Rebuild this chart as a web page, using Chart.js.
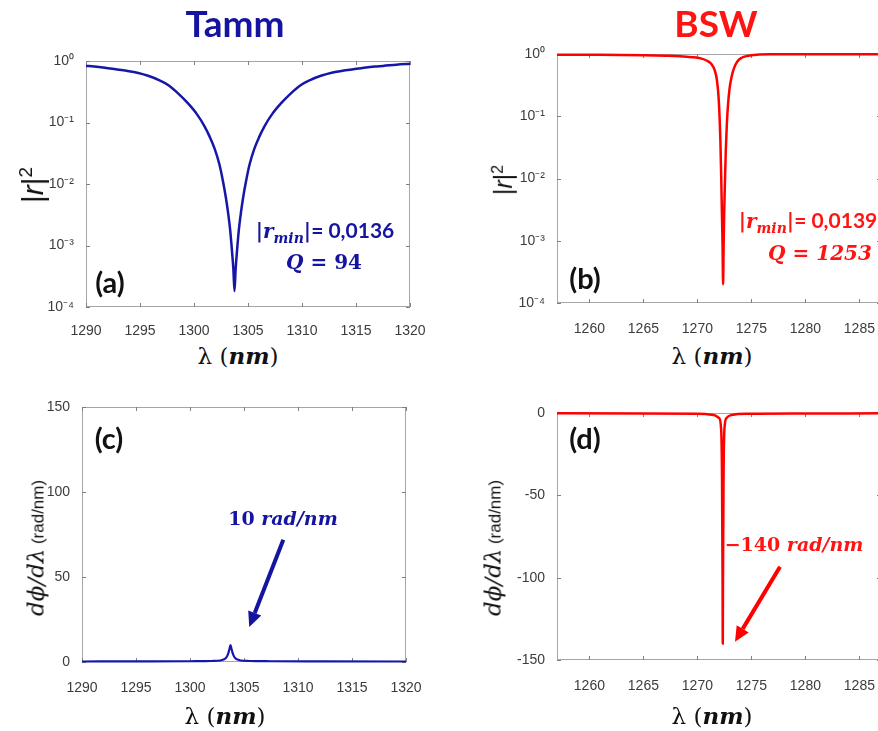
<!DOCTYPE html>
<html>
<head>
<meta charset="utf-8">
<script src="https://cdn.jsdelivr.net/npm/chart.js@4.4.1/dist/chart.umd.min.js"></script>
<style>
  html, body { margin: 0; padding: 0; background: #fff; }
  body { width: 878px; height: 731px; overflow: hidden; position: relative; font-family: "Liberation Sans", Arial, sans-serif; }
  .panel { position: absolute; }
  .txt { position: absolute; white-space: nowrap; transform: translate(-50%, -50%); line-height: 1; }
  .rot { transform: translate(-50%, -50%) rotate(-90deg); }
  .title { font-family: Lato, "Open Sans", sans-serif; font-weight: 700; font-size: 37px; }
  .tag { font-family: Lato, "Open Sans", sans-serif; font-weight: 700; font-size: 29px; color: #111; }
  .mi { font-family: "DejaVu Serif", serif; font-style: italic; font-weight: 700; }
  .ms { font-family: "DejaVu Serif", serif; font-weight: 700; }
  .cb { font-family: Lato, "Open Sans", sans-serif; font-weight: 700; }
  .xl { font-size: 23px; color: #111; font-family: "DejaVu Serif", serif; }
  .blue { color: #1414a0; }
  .red { color: #ff1414; }
</style>
</head>
<body>

<div class="panel" style="left:0;top:40px"><canvas id="pa" width="440" height="300"></canvas></div>
<div class="panel" style="left:440px;top:40px"><canvas id="pb" width="460" height="300"></canvas></div>
<div class="panel" style="left:0;top:390px"><canvas id="pc" width="440" height="341"></canvas></div>
<div class="panel" style="left:440px;top:390px"><canvas id="pd" width="460" height="341"></canvas></div>

<div class="txt title blue" style="left:235px;top:22px">Tamm</div>
<div class="txt title red" style="left:716px;top:22px">BSW</div>

<!-- y titles -->
<div class="txt rot" style="left:32px;top:185px;font-size:30px;color:#111">|<i>r</i>|<sup style="font-size:19px">2</sup></div>
<div class="txt rot" style="left:503px;top:180px;font-size:25px;color:#111">|<i>r</i>|<sup style="font-size:16px">2</sup></div>
<div class="txt rot" style="left:36px;top:548px;color:#111"><span style="font-family:'DejaVu Serif',serif;font-style:italic;font-size:23px">dϕ/dλ</span> <span style="font-size:17px">(rad/nm)</span></div>
<div class="txt rot" style="left:493px;top:548px;color:#111"><span style="font-family:'DejaVu Serif',serif;font-style:italic;font-size:23px">dϕ/dλ</span> <span style="font-size:17px">(rad/nm)</span></div>

<!-- x titles -->
<div class="txt xl" style="left:238px;top:356px">λ (<span class="mi">nm</span>)</div>
<div class="txt xl" style="left:712px;top:356px">λ (<span class="mi">nm</span>)</div>
<div class="txt xl" style="left:225px;top:716px">λ (<span class="mi">nm</span>)</div>
<div class="txt xl" style="left:712px;top:716px">λ (<span class="mi">nm</span>)</div>

<!-- panel tags -->
<div class="txt tag" style="left:110px;top:281px">(a)</div>
<div class="txt tag" style="left:585px;top:277px">(b)</div>
<div class="txt tag" style="left:109px;top:437px">(c)</div>
<div class="txt tag" style="left:585px;top:437px">(d)</div>

<!-- annotations -->
<div class="txt blue" style="left:325px;top:232px;font-size:20px"><span class="mi">|r<sub style="font-size:14px">min</sub>|</span><span class="cb" style="font-size:21px">= 0,0136</span></div>
<div class="txt blue ms" style="left:324px;top:262px;font-size:20px"><span class="mi">Q</span> = 94</div>
<div class="txt red" style="left:808px;top:222px;font-size:20px"><span class="mi">|r<sub style="font-size:14px">min</sub>|</span><span class="cb" style="font-size:21px">= 0,0139</span></div>
<div class="txt red ms" style="left:820px;top:253px;font-size:20px"><span class="mi">Q</span> = <span class="mi">1253</span></div>
<div class="txt blue ms" style="left:283px;top:518px;font-size:19px">10 <span class="mi">rad/nm</span></div>
<div class="txt red ms" style="left:794px;top:544px;font-size:19px">−140 <span class="mi">rad/nm</span></div>

<script>
// ---- data ----
const tammLambda = [1290, 1290.75, 1291.75, 1292.75, 1293.75, 1294.75, 1295.75, 1296.75, 1297.6, 1298.55,
  1299.45, 1300.25, 1301, 1301.45, 1301.9, 1302.35, 1302.7, 1302.95, 1303.15, 1303.35, 1303.5, 1303.65, 1303.75,
  1303.85, 1304.0, 1304.15, 1304.35, 1304.55, 1304.8, 1305.15, 1305.6, 1306.05, 1306.5, 1307.25, 1308.05,
  1308.95, 1309.9, 1310.75, 1311.75, 1312.75, 1313.75, 1314.75, 1315.75, 1316.75, 1317.5, 1318.75, 1320];
const tammR2 = [0.832, 0.813, 0.776, 0.733, 0.692, 0.646, 0.575, 0.490, 0.407, 0.295,
  0.204, 0.138, 0.0851, 0.0589, 0.0380, 0.0209, 0.0107, 0.00603, 0.00347, 0.00178, 0.00089, 0.000398, 0.000182,
  0.000398, 0.00089, 0.00178, 0.00347, 0.00603, 0.0107, 0.0209, 0.0380, 0.0589, 0.0851, 0.138, 0.204,
  0.295, 0.407, 0.490, 0.575, 0.646, 0.692, 0.733, 0.776, 0.813, 0.832, 0.871, 0.902];

const bswLambda = [1257, 1260, 1263, 1265, 1267, 1268.4, 1269.5, 1270.3, 1270.9, 1271.3, 1271.6, 1271.8,
  1271.95, 1272.05, 1272.13, 1272.2, 1272.27, 1272.33, 1272.38, 1272.43, 1272.48, 1272.56, 1272.63, 1272.72,
  1272.83, 1272.98, 1273.18, 1273.4, 1273.7, 1274.1, 1274.6, 1275.5, 1277, 1280, 1284, 1287];
const bswR2 = [0.977, 0.972, 0.966, 0.955, 0.94, 0.923, 0.89, 0.85, 0.78, 0.69, 0.55, 0.39,
  0.214, 0.10, 0.0398, 0.0117, 0.0028, 0.00085, 0.0002, 0.00089, 0.0028, 0.010, 0.028, 0.071,
  0.15, 0.28, 0.44, 0.60, 0.76, 0.87, 0.93, 0.977, 0.99, 0.995, 0.995, 0.995];

const tammGdLambda = [1290, 1295, 1300, 1302, 1302.8, 1303.1, 1303.3, 1303.45, 1303.55, 1303.65, 1303.75,
  1303.85, 1303.95, 1304.05, 1304.2, 1304.4, 1304.7, 1305.5, 1307.5, 1312, 1320];
const tammGd = [0.3, 0.35, 0.45, 0.6, 0.9, 1.4, 2.2, 3.6, 5.2, 7.5, 10,
  7.5, 5.2, 3.6, 2.2, 1.4, 0.9, 0.6, 0.45, 0.35, 0.3];

const bswGdLambda = [1257, 1265, 1270, 1271.5, 1272.0, 1272.2, 1272.28, 1272.33, 1272.35, 1272.37,
  1272.42, 1272.5, 1272.7, 1273.2, 1274.7, 1280, 1287];
const bswGd = [-0.2, -0.3, -0.5, -1.2, -3, -10, -40, -100, -140, -100, -40, -10, -3, -1.2, -0.5, -0.3, -0.2];

const tammTicks = [1290, 1295, 1300, 1305, 1310, 1315, 1320];
const bswTicks = [1260, 1265, 1270, 1275, 1280, 1285];
const r2Ticks = [1e-4, 1e-3, 1e-2, 1e-1, 1];
const tammGdTicks = [0, 50, 100, 150];
const bswGdTicks = [-150, -100, -50, 0];

const BLUE = '#1616a8';
const RED = '#ff0000';

const sup = { '-': '⁻', '0': '⁰', '1': '¹', '2': '²', '3': '³', '4': '⁴' };
const powLabel = v => '10' + String(Math.round(Math.log10(v))).split('').map(c => sup[c]).join('');

// box with inward ticks, matlab style
const boxPlugin = {
  id: 'box',
  beforeDatasetsDraw(chart) {
    const { ctx, chartArea: a, scales } = chart;
    ctx.save();
    ctx.strokeStyle = '#a6a6a6';
    ctx.lineWidth = 1;
    ctx.strokeRect(a.left + 0.5, a.top + 0.5, a.right - a.left - 1, a.bottom - a.top - 1);
    ctx.strokeStyle = '#808080';
    ctx.beginPath();
    scales.x.ticks.forEach(t => {
      const p = Math.round(scales.x.getPixelForValue(t.value)) + 0.5;
      ctx.moveTo(p, a.bottom); ctx.lineTo(p, a.bottom - 4);
      ctx.moveTo(p, a.top); ctx.lineTo(p, a.top + 4);
    });
    scales.y.ticks.forEach(t => {
      const p = Math.round(scales.y.getPixelForValue(t.value)) + 0.5;
      ctx.moveTo(a.left, p); ctx.lineTo(a.left + 4, p);
      ctx.moveTo(a.right, p); ctx.lineTo(a.right - 4, p);
    });
    ctx.stroke();
    ctx.restore();
  }
};

const arrowPlugin = {
  id: 'arrow',
  afterDatasetsDraw(chart, args, opts) {
    if (!opts || !opts.from) return;
    const { ctx, scales } = chart;
    const x0 = scales.x.getPixelForValue(opts.from[0]), y0 = scales.y.getPixelForValue(opts.from[1]);
    const x1 = scales.x.getPixelForValue(opts.to[0]), y1 = scales.y.getPixelForValue(opts.to[1]);
    const ang = Math.atan2(y1 - y0, x1 - x0);
    const hl = 15, hw = 7;
    const bx = x1 - hl * Math.cos(ang), by = y1 - hl * Math.sin(ang);
    ctx.save();
    ctx.strokeStyle = opts.color;
    ctx.fillStyle = opts.color;
    ctx.lineWidth = 4;
    ctx.beginPath(); ctx.moveTo(x0, y0); ctx.lineTo(bx, by); ctx.stroke();
    ctx.beginPath();
    ctx.moveTo(x1, y1);
    ctx.lineTo(bx + hw * Math.sin(ang), by - hw * Math.cos(ang));
    ctx.lineTo(bx - hw * Math.sin(ang), by + hw * Math.cos(ang));
    ctx.closePath(); ctx.fill();
    ctx.restore();
  }
};

function makeChart(id, cfg) {
  const tickFont = { family: '"Liberation Sans", Arial, sans-serif', size: 14 };
  return new Chart(document.getElementById(id), {
    type: 'line',
    data: {
      datasets: [{
        data: cfg.xs.map((x, i) => ({ x: x, y: cfg.ys[i] })),
        borderColor: cfg.color,
        borderWidth: cfg.lw,
        pointRadius: 0,
        fill: false,
        cubicInterpolationMode: 'monotone',
        clip: 6
      }]
    },
    options: {
      responsive: false,
      devicePixelRatio: 1,
      animation: false,
      events: [],
      layout: { autoPadding: false, padding: { left: 0, top: cfg.padTop, right: cfg.padRight, bottom: 0 } },
      plugins: { legend: { display: false }, tooltip: { enabled: false }, arrow: cfg.arrow || {} },
      scales: {
        x: {
          type: 'linear', min: cfg.xmin, max: cfg.xmax,
          grid: { display: false }, border: { display: false },
          afterBuildTicks: s => { s.ticks = cfg.xticks.map(v => ({ value: v })); },
          afterFit: s => { s.height = cfg.xh; },
          ticks: { color: '#3c3c3c', font: tickFont, padding: cfg.xpad, maxRotation: 0, autoSkip: false,
                   callback: v => String(v) }
        },
        y: {
          type: cfg.log ? 'logarithmic' : 'linear', min: cfg.ymin, max: cfg.ymax,
          grid: { display: false }, border: { display: false },
          afterBuildTicks: s => { s.ticks = cfg.yticks.map(v => ({ value: v })); },
          afterFit: s => { s.width = cfg.yw; },
          ticks: { color: '#3c3c3c', font: tickFont, padding: 4, autoSkip: false,
                   callback: cfg.log ? powLabel : (v => String(v)) }
        }
      }
    },
    plugins: [boxPlugin, arrowPlugin]
  });
}

makeChart('pa', { xs: tammLambda, ys: tammR2, color: BLUE, lw: 2.5, xmin: 1290, xmax: 1320, xticks: tammTicks,
  log: true, ymin: 1e-4, ymax: 1, yticks: r2Ticks, yw: 86, xh: 33, padTop: 21, padRight: 30, xpad: 8 });

makeChart('pb', { xs: bswLambda, ys: bswR2, color: RED, lw: 2.5, xmin: 1257, xmax: 1287, xticks: bswTicks,
  log: true, ymin: 1e-4, ymax: 1, yticks: r2Ticks, yw: 117, xh: 37, padTop: 14, padRight: 19, xpad: 10 });

makeChart('pc', { xs: tammGdLambda, ys: tammGd, color: BLUE, lw: 2.2, xmin: 1290, xmax: 1320, xticks: tammTicks,
  log: false, ymin: 0, ymax: 150, yticks: tammGdTicks, yw: 82, xh: 69, padTop: 17, padRight: 34, xpad: 10,
  arrow: { from: [1308.64, 71.9], to: [1305.49, 20.6], color: '#1414a0' } });

makeChart('pd', { xs: bswGdLambda, ys: bswGd, color: RED, lw: 2.5, xmin: 1257, xmax: 1287, xticks: bswTicks,
  log: false, ymin: -150, ymax: 0, yticks: bswGdTicks, yw: 117, xh: 71, padTop: 23, padRight: 19, xpad: 10,
  arrow: { from: [1277.65, -93.4], to: [1273.48, -138.9], color: RED } });
</script>
</body>
</html>
